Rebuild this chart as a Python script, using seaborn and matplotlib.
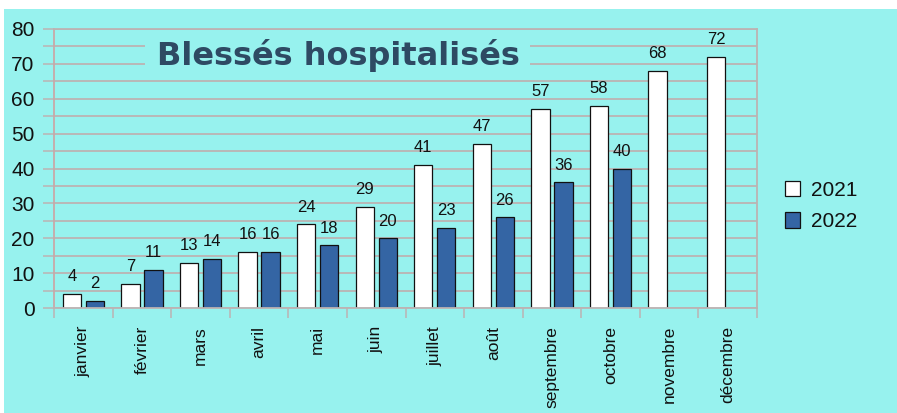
import matplotlib
matplotlib.use("Agg")
import matplotlib.pyplot as plt
import seaborn as sns
import pandas as pd
from matplotlib.patches import Rectangle, Patch
from matplotlib.ticker import MultipleLocator, FixedLocator

months = ["janvier", "février", "mars", "avril", "mai", "juin", "juillet",
          "août", "septembre", "octobre", "novembre", "décembre"]
values_2021 = [4, 7, 13, 16, 24, 29, 41, 47, 57, 58, 68, 72]
values_2022 = [2, 11, 14, 16, 18, 20, 23, 26, 36, 40]
series = ["2021", "2022"]
title = "Blessés hospitalisés"

rows = []
for m, v in zip(months, values_2021):
    rows.append({"mois": m, "annee": "2021", "val": v})
for m, v in zip(months, values_2022):
    rows.append({"mois": m, "annee": "2022", "val": v})
df = pd.DataFrame(rows)

sns.set_theme(style="white")
plt.rcParams["font.family"] = ["Liberation Sans", "DejaVu Sans"]

BG = "#97f2ee"
GRID = "#bcb3b3"
W, H = 897, 413
fig = plt.figure(figsize=(W / 100, H / 100), dpi=100, facecolor="white")
fig.patches.append(Rectangle((4 / W, 0), 1 - 4 / W, (H - 9) / H,
                             transform=fig.transFigure, facecolor=BG,
                             edgecolor="none", zorder=-10))
ax = fig.add_axes([54 / W, (H - 308) / H, (757 - 54) / W, (308 - 29) / H])
ax.set_facecolor(BG)

sns.barplot(data=df, x="mois", y="val", hue="annee", order=months,
            hue_order=series, palette={"2021": "white", "2022": "#3465a4"},
            saturation=1, width=0.785, gap=0.2, edgecolor="#111111",
            linewidth=0.9, ax=ax, legend=False)

for cont in ax.containers:
    ax.bar_label(cont, padding=7, fontsize=12, color="#111111")

ax.set_xlim(-0.5, len(months) - 0.5)
ax.set_ylim(0, 80)
ax.yaxis.set_major_locator(MultipleLocator(10))
ax.yaxis.set_minor_locator(MultipleLocator(5))
ax.xaxis.set_minor_locator(FixedLocator([i - 0.5 for i in range(len(months) + 1)]))
ax.grid(True, axis="y", which="both", color=GRID, linewidth=1.3)
ax.set_axisbelow(True)
ax.tick_params(axis="y", which="both", left=True, length=8, width=1.1,
               color=GRID, labelsize=15, pad=6, labelcolor="#111111")
ax.tick_params(axis="x", which="major", length=0, labelsize=12.5,
               labelrotation=90, pad=13, labelcolor="#111111")
ax.tick_params(axis="x", which="minor", bottom=True, length=7.5, width=1.1,
               color=GRID)
ax.set_xlabel("")
ax.set_ylabel("")
for s in ax.spines.values():
    s.set_color(GRID)
    s.set_linewidth(1.3)
ax.spines["left"].set_color("#c8a8a8")

# title with background box
fig.patches.append(Rectangle((145 / W, (H - 74) / H), (530 - 145) / W, 37 / H,
                             transform=fig.transFigure, facecolor=BG,
                             edgecolor="none", zorder=5))
fig.text(338 / W, (H - 56) / H, title, ha="center", va="center",
         fontsize=23, fontweight="bold", color="#2e4a63",
         family=["DejaVu Sans"], zorder=6)

handles = [Patch(facecolor="white", edgecolor="#111111", linewidth=0.9),
           Patch(facecolor="#3465a4", edgecolor="#111111", linewidth=0.9)]
leg = fig.legend(handles, series, loc="center left",
                 bbox_to_anchor=(766 / W, 1 - 206 / H), frameon=False,
                 fontsize=15, handlelength=0.75, handleheight=0.75,
                 handletextpad=0.5, labelspacing=0.6)
for t in leg.get_texts():
    t.set_color("#111111")

fig.savefig("out.png", dpi=100, facecolor="white")
